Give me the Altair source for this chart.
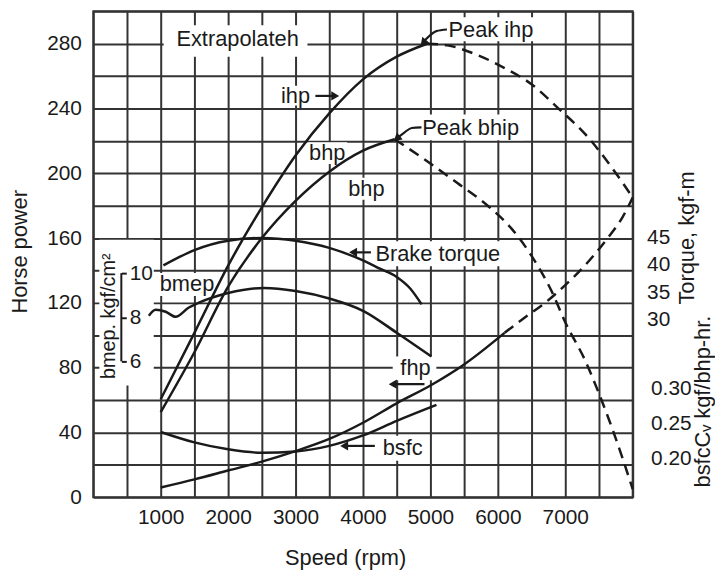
import altair as alt
import pandas as pd

# ------------------------------------------------------------------
# Values
# ------------------------------------------------------------------
# Horse-power curves: engine speed (rpm) and power (hp)
ihp_rpm = [1000, 1500, 2000, 2500, 3000, 3500, 4000, 4500, 4950]
ihp_hp = [60.5, 101.5, 143, 179, 211, 237, 258, 272, 280]
ihp_ext_rpm = [4950, 5250, 5700, 6100, 6500, 6900, 7300, 7700, 8000]
ihp_ext_hp = [280, 279, 273, 265, 255, 240, 224, 203, 185]

bhp_rpm = [1000, 1500, 2000, 2500, 3000, 3500, 4000, 4470]
bhp_hp = [52.5, 89.5, 130, 160, 183, 201, 214, 221]
bhp_ext_rpm = [4470, 4900, 5400, 5850, 6200, 6500, 6800, 7000, 7300, 7500, 7700, 7850, 8000]
bhp_ext_hp = [221, 209, 194, 180, 166, 149, 127, 108, 84, 64, 42, 24, 5]

fhp_rpm = [1000, 1500, 2000, 2500, 3000, 3500, 4000, 4500, 5000, 5500, 6100]
fhp_hp = [6, 11, 16.5, 22, 28.5, 36, 46, 58, 69, 82, 101.5]
fhp_ext_rpm = [6100, 6400, 6700, 7000, 7300, 7600, 7850, 8000]
fhp_ext_hp = [101.5, 111, 120, 131, 143.5, 158.5, 173, 185]

# Brake torque (kgf-m), bsfc (kgf/bhp-hr), bmep (kgf/cm2)
torque_rpm = [1040, 1500, 2000, 2500, 3000, 3500, 4000, 4250, 4500, 4700, 4870]
torque_kgfm = [39.9, 42.7, 44.4, 44.9, 44.4, 43.1, 40.8, 39.3, 37.8, 35.7, 32.8]

bsfc_rpm = [1000, 1500, 2000, 2500, 3000, 3500, 4000, 4500, 5090]
bsfc_val = [0.238, 0.223, 0.213, 0.208, 0.210, 0.218, 0.233, 0.254, 0.277]

bmep_rpm = [824, 926, 1074, 1221, 1412, 1559, 2000, 2530, 3000, 3500, 4015, 4500, 5015]
bmep_val = [8.07, 8.34, 8.25, 8.02, 8.43, 8.65, 9.10, 9.33, 9.19, 8.85, 8.27, 7.30, 6.22]

# Tick values
rpm_ticks = list(range(0, 8001, 500))
hp_ticks = list(range(0, 301, 20))
torque_ticks = [30, 35, 40, 45]
bsfc_ticks = [0.20, 0.25, 0.30]
bmep_ticks = [6, 8, 10]

# Scale domains of the four vertical scales
RPM_DOMAIN = [0, 8000]
HP_DOMAIN = [0, 300]
TORQUE_DOMAIN = [-2.35, 86.2]
BSFC_DOMAIN = [0.144, 0.844]
BMEP_DOMAIN = [-0.16, 21.87]

# Annotations (data coordinates)
note_text = ["Extrapolateh", "ihp", "bhp", "bhp", "Peak ihp", "Peak bhip",
             "Brake torque", "fhp", "bsfc", "bmep"]
note_rpm = [2140, 3000, 3470, 4051, 5897, 5596, 5110, 4779, 4588, 1390]
note_hp = [282.9, 247.7, 212.5, 190.1, 288.4, 228.1, 150.3, 79.6, 30.6, 131.6]

# White boxes that interrupt the grid behind the labels
box_rpm1 = [1044, 2735, 3176, 3765, 5191, 4794, 4103, 4441, 4221, 941, 90]
box_rpm2 = [3176, 3265, 3765, 4353, 6588, 6382, 6118, 5088, 4956, 1838, 897]
box_hp1 = [271.9, 241.9, 205.7, 183.7, 281.6, 220.4, 142.6, 72.2, 22.6, 124.3, 69.0]
box_hp2 = [291.4, 254.1, 219.2, 197.2, 296.3, 236.3, 158.0, 86.9, 38.0, 138.4, 159.0]

# Arrow shafts and heads
shaft_id = ["ihp", "ihp", "bt", "bt", "fhp", "fhp", "bsfc", "bsfc",
            "pk_ihp", "pk_ihp", "pk_ihp", "pk_ihp", "pk_bhp", "pk_bhp", "pk_bhp", "pk_bhp"]
shaft_rpm = [3294, 3540, 3853, 4118, 4441, 4912, 3721, 4176,
             4905, 4966, 5088, 5245, 4530, 4622, 4721, 4868]
shaft_hp = [247.8, 247.8, 151.2, 151.2, 69.8, 69.8, 31.7, 31.7,
            281.6, 284.1, 287.8, 288.8, 222.5, 225.5, 228.0, 228.4]
head_rpm = [3588, 3853, 4441, 3721, 4893, 4500]
head_hp = [247.8, 151.2, 69.8, 31.7, 280.6, 221.5]
head_shape = ["triangle-right", "triangle-left", "triangle-left", "triangle-left",
              "triangle-left", "triangle-left"]
head_angle = [0, 0, 0, 0, 311, 321]

# bmep axis bracket
bracket_rpm = [416]
bracket_lo = [6]
bracket_hi = [10]

# ------------------------------------------------------------------
# Styling
# ------------------------------------------------------------------
FONT = "Liberation Sans"
INK = "#1a1a1a"
GRID = "#333333"

x_axis = alt.Axis(
    values=rpm_ticks, format="d",
    labelExpr="(datum.value % 1000 === 0 && datum.value > 0 && datum.value < 8000) ? datum.label : ''",
    grid=True, gridColor=GRID, gridWidth=2, gridOpacity=1,
    ticks=False, domain=False, labelPadding=9, labelFontSize=21, labelFont=FONT,
    labelColor=INK, labelOverlap=False, labelFlush=False,
    title="Speed (rpm)", titleX=254, titleY=61, titleAlign="center", titleBaseline="middle",
    titleFont=FONT, titleFontSize=22, titleFontWeight="normal", titleColor=INK,
)
y_axis = alt.Axis(
    values=hp_ticks, format="d",
    labelExpr="datum.value % 40 === 0 && datum.value < 300 ? datum.label : ''",
    grid=True, gridColor=GRID, gridWidth=2, gridOpacity=1,
    ticks=False, domain=False, labelPadding=12, labelFontSize=21, labelFont=FONT,
    labelColor=INK, labelOverlap=False, labelFlush=False,
    title="Horse power", titleAngle=270, titleX=-74.5, titleY=242, titleAlign="center",
    titleBaseline="middle", titleFont=FONT, titleFontSize=22, titleFontWeight="normal",
    titleColor=INK,
)
torque_axis = alt.Axis(
    orient="right", values=torque_ticks, grid=False, ticks=False, domain=False,
    labelPadding=14, labelFontSize=21, labelFont=FONT, labelColor=INK,
    labelOverlap=False, labelFlush=False,
    title="Torque, kgf-m", titleAngle=270, titleX=54, titleY=228, titleAlign="center",
    titleBaseline="middle", titleFont=FONT, titleFontSize=22, titleFontWeight="normal",
    titleColor=INK,
)
bsfc_axis = alt.Axis(
    orient="right", values=bsfc_ticks, format=".2f", grid=False, ticks=False, domain=False,
    labelPadding=18, labelFontSize=21, labelFont=FONT, labelColor=INK,
    labelOverlap=False, labelFlush=False,
    title="bsfcCᵥ kgf/bhp-hr.", titleAngle=270, titleX=70, titleY=393, titleAlign="center",
    titleBaseline="middle", titleFont=FONT, titleFontSize=22, titleFontWeight="normal",
    titleColor=INK,
)
bmep_axis = alt.Axis(
    orient="right", offset=-515.7, values=bmep_ticks, grid=False, domain=False,
    ticks=True, tickSize=5, tickWidth=2, tickColor=INK,
    labelPadding=3, labelFontSize=21, labelFont=FONT, labelColor=INK,
    labelOverlap=False, labelFlush=False,
    title="bmep. kgf/cm²", titleAngle=270, titleX=-12.8, titleY=307, titleAlign="center",
    titleBaseline="middle", titleFont=FONT, titleFontSize=20, titleFontWeight="normal",
    titleColor=INK, zindex=1,
)

rpm_scale = alt.Scale(domain=RPM_DOMAIN, nice=False, zero=False)
hp_scale = alt.Scale(domain=HP_DOMAIN, nice=False, zero=False)


def xq(field):
    return alt.X(f"{field}:Q", scale=rpm_scale, axis=x_axis)


def yq(field):
    return alt.Y(f"{field}:Q", scale=hp_scale, axis=y_axis)


# ------------------------------------------------------------------
# Tables
# ------------------------------------------------------------------
def series(name, rpm, vals):
    return pd.DataFrame({"rpm": rpm, "hp": vals, "series": name})


solid = pd.concat([series("ihp", ihp_rpm, ihp_hp),
                   series("bhp", bhp_rpm, bhp_hp),
                   series("fhp", fhp_rpm, fhp_hp)])
dashed = pd.concat([series("ihp", ihp_ext_rpm, ihp_ext_hp),
                    series("bhp", bhp_ext_rpm, bhp_ext_hp),
                    series("fhp", fhp_ext_rpm, fhp_ext_hp)])
boxes = pd.DataFrame({"r1": box_rpm1, "r2": box_rpm2, "h1": box_hp1, "h2": box_hp2})
notes = pd.DataFrame({"text": note_text, "rpm": note_rpm, "hp": note_hp})
shafts = pd.DataFrame({"arrow": shaft_id, "rpm": shaft_rpm, "hp": shaft_hp})
heads = pd.DataFrame({"rpm": head_rpm, "hp": head_hp, "shape": head_shape, "angle": head_angle})
torque_df = pd.DataFrame({"rpm": torque_rpm, "torque": torque_kgfm})
bsfc_df = pd.DataFrame({"rpm": bsfc_rpm, "bsfc": bsfc_val})
bmep_df = pd.DataFrame({"rpm": bmep_rpm, "bmep": bmep_val})
bracket_df = pd.DataFrame({"rpm": bracket_rpm, "b1": bracket_lo, "b2": bracket_hi})

# ------------------------------------------------------------------
# Layers
# ------------------------------------------------------------------
box_layer = alt.Chart(boxes).mark_rect(color="white").encode(
    x=xq("r1"), x2="r2:Q", y=yq("h1"), y2="h2:Q")

solid_layer = alt.Chart(solid).mark_line(
    color=INK, strokeWidth=2.5, interpolate="monotone").encode(
    x=xq("rpm"), y=yq("hp"), detail="series:N")

dashed_layer = alt.Chart(dashed).mark_line(
    color=INK, strokeWidth=2.5, strokeDash=[11, 7], interpolate="monotone").encode(
    x=xq("rpm"), y=yq("hp"), detail="series:N")

text_layer = alt.Chart(notes).mark_text(
    font=FONT, fontSize=22, color=INK, align="center", baseline="middle").encode(
    x=xq("rpm"), y=yq("hp"), text="text:N")

shaft_layer = alt.Chart(shafts).mark_line(
    color=INK, strokeWidth=2.2, interpolate="monotone").encode(
    x=xq("rpm"), y=yq("hp"), detail="arrow:N")

head_layer = alt.Chart(heads).mark_point(
    filled=True, color=INK, size=85, opacity=1).encode(
    x=xq("rpm"), y=yq("hp"),
    shape=alt.Shape("shape:N", scale=None),
    angle=alt.Angle("angle:Q", scale=None))

hp_layer = alt.layer(box_layer, solid_layer, dashed_layer, text_layer, shaft_layer, head_layer)

torque_layer = alt.Chart(torque_df).mark_line(
    color=INK, strokeWidth=2.5, interpolate="monotone").encode(
    x=xq("rpm"),
    y=alt.Y("torque:Q", scale=alt.Scale(domain=TORQUE_DOMAIN, nice=False, zero=False),
            axis=torque_axis))

bsfc_layer = alt.Chart(bsfc_df).mark_line(
    color=INK, strokeWidth=2.5, interpolate="monotone").encode(
    x=xq("rpm"),
    y=alt.Y("bsfc:Q", scale=alt.Scale(domain=BSFC_DOMAIN, nice=False, zero=False),
            axis=bsfc_axis))

bmep_scale = alt.Scale(domain=BMEP_DOMAIN, nice=False, zero=False)
bmep_line = alt.Chart(bmep_df).mark_line(
    color=INK, strokeWidth=2.5, interpolate="monotone").encode(
    x=xq("rpm"), y=alt.Y("bmep:Q", scale=bmep_scale, axis=bmep_axis))
bmep_bracket = alt.Chart(bracket_df).mark_rule(color=INK, strokeWidth=2).encode(
    x=xq("rpm"), y=alt.Y("b1:Q", scale=bmep_scale, axis=bmep_axis), y2="b2:Q")
bmep_layer = alt.layer(bmep_line, bmep_bracket)

chart = (
    alt.layer(hp_layer, torque_layer, bsfc_layer, bmep_layer)
    .resolve_scale(y="independent")
    .properties(
        width=544, height=490,
        padding={"left": 86, "top": 1, "right": 83, "bottom": 72},
        autosize=alt.AutoSizeParams(type="none"),
        background="white",
    )
    .configure_view(stroke=GRID, strokeWidth=2)
)

chart.save("out.html", embed_options={"renderer": "svg", "actions": False})
